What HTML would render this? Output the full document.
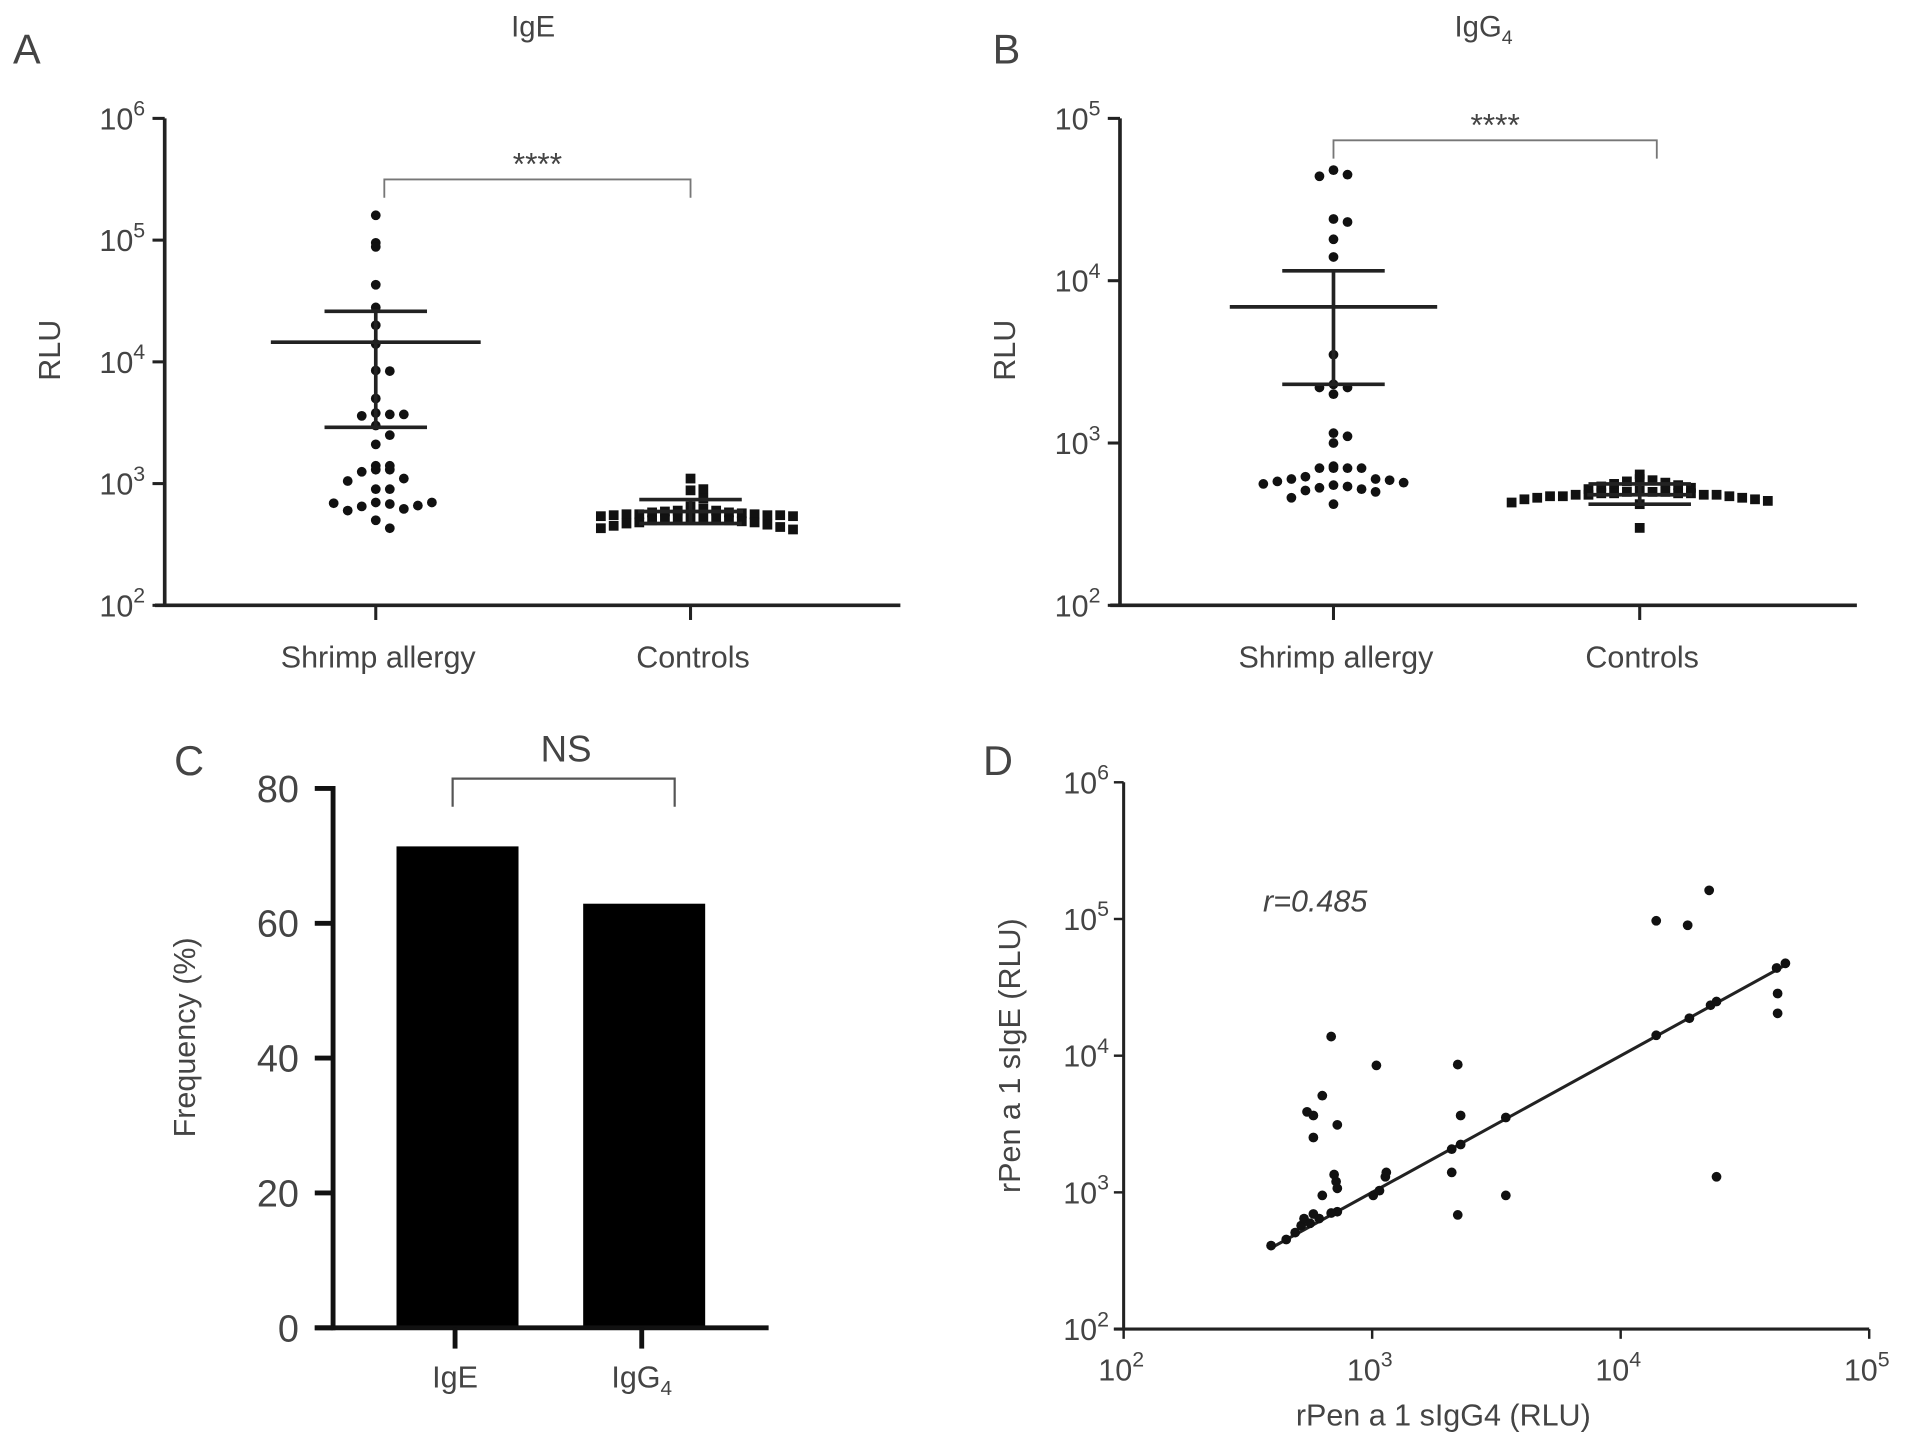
<!DOCTYPE html>
<html><head><meta charset="utf-8">
<style>
html,body{margin:0;padding:0;background:#fff;}
svg{display:block;}
text{font-family:"Liberation Sans",sans-serif;fill:#444;}
</style></head>
<body>
<svg id="fig" width="1913" height="1445" viewBox="0 0 1568 1184" preserveAspectRatio="none" xmlns="http://www.w3.org/2000/svg"></svg>
<script>
// ---------- Panel A data (IgE) ----------
const aShrimp = [160000, 95000, 88000, 43000, 28000, 20000, 14000, 8500, 8400, 5000, 3800, 3700, 3600, 3700, 3000, 2500, 2100, 1400, 1300, 1300, 1250, 1400, 1100, 1050, 900, 900, 700, 680, 650, 620, 600, 660, 690, 700, 500, 430];
const aControls = [1100, 900, 880, 750, 650, 620, 600, 600, 590, 580, 580, 570, 560, 560, 560, 550, 550, 550, 540, 540, 530, 530, 520, 520, 510, 500, 500, 490, 480, 480, 470, 460, 450, 440, 430, 420];
const aShrimpStats = [14500, 2900, 26000]; // mean, lower, upper
const aControlStats = [590, 470, 740];
// ---------- Panel B data (IgG4) ----------
const bShrimp = [48000, 45000, 44000, 24000, 23000, 18000, 14000, 3500, 2300, 2200, 2200, 2000, 1150, 1100, 1000, 720, 700, 700, 700, 700, 620, 600, 600, 590, 580, 570, 560, 550, 540, 530, 520, 510, 500, 460, 420];
const bControls = [640, 600, 590, 580, 570, 560, 550, 540, 530, 520, 510, 500, 500, 500, 490, 490, 490, 490, 480, 480, 480, 480, 470, 470, 470, 460, 460, 450, 450, 440, 430, 420, 300];
const bShrimpStats = [6900, 2300, 11500];
const bControlStats = [480, 420, 560];
const categoriesAB = ["Shrimp allergy", "Controls"];
// ---------- Panel C data ----------
const cCategories = ["IgE", "IgG4"];
const cValues = [71.4, 62.9];
const cTicks = [0, 20, 40, 60, 80];
// ---------- Panel D data ----------
const dX = [1010,392,451,490,518,532,563,612,580,724,684,630,703,716,724,547,580,580,630,684,724,1040,1070,1130,1140,2090,2210,2270,2210,2090,2270,3450,3450,13900,18600,22700,13900,18900,23000,24300,42800,42800,42400,46000,24300];
const dY = [950,408,452,508,571,643,594,643,695,722,706,950,1350,1200,1070,3880,3650,2520,5100,13800,3120,8490,1030,1300,1400,1400,8610,3650,684,2070,2240,950,3530,97000,90000,162000,14100,18800,23400,1300,28500,20400,43800,47400,24900];
const dFit = [1.0, 0.0]; // slope, intercept in log space
const dFitRange = [400, 46000];
const dR = "r=0.485";

const NS = "http://www.w3.org/2000/svg";
const svg = document.getElementById('fig');
function el(tag, attrs, parent) {
  const e = document.createElementNS(NS, tag);
  for (const k in attrs) e.setAttribute(k, attrs[k]);
  (parent || svg).appendChild(e);
  return e;
}
function txt(x, y, s, size, anchor, parent) {
  const t = el('text', {x: x, y: y, 'font-size': size, 'text-anchor': anchor || 'middle'}, parent);
  t.textContent = s;
  return t;
}
function pow10Label(x, y, exp, size, anchor) {
  const t = el('text', {x: x, y: y, 'font-size': size, 'text-anchor': anchor || 'end'});
  t.appendChild(document.createTextNode('10'));
  const s = el('tspan', {dy: -size * 0.45, 'font-size': size * 0.7}, t);
  s.textContent = exp;
  return t;
}
const L = Math.log10;

function dotPanel(cfg) {
  const g = el('g', {});
  
  
  const y = v => cfg.y0 - (L(v) - cfg.minExp) * cfg.dec;
  const ya = el('line', {x1: cfg.ax, y1: y(Math.pow(10, cfg.maxExp)), x2: cfg.ax, y2: cfg.y0 + 1, stroke: '#222', 'stroke-width': 3}, g);
  
  
  const xa = el('line', {x1: cfg.ax - 8, y1: cfg.y0, x2: cfg.xEnd, y2: cfg.y0, stroke: '#222', 'stroke-width': 3}, g);
  
  
  for (let e = cfg.minExp; e <= cfg.maxExp; e++) {
    const yy = y(Math.pow(10, e));
    el('line', {x1: cfg.ax - 10, y1: yy, x2: cfg.ax, y2: yy, stroke: '#222', 'stroke-width': 2.5}, g);
    const lab = pow10Label(cfg.ax - 16, yy + 9, e, 25, 'end');
    
    
  }
  cfg.cx.forEach((cx, i) => {
    el('line', {x1: cx, y1: cfg.y0, x2: cx, y2: cfg.y0 + 12, stroke: '#222', 'stroke-width': 2.5}, g);
    const t = txt(cx + 2, cfg.y0 + 51, categoriesAB[i], 25, 'middle', g);
    
    
  });
  const yl = txt(0, 0, 'RLU', 25, 'middle', g);
  yl.setAttribute('transform', `translate(${cfg.ax - 86},${cfg.ylY}) rotate(-90)`);
  
  
  const br = el('path', {d: `M${cfg.br[0]},${cfg.br[2] + 15} V${cfg.br[2]} H${cfg.br[1]} V${cfg.br[2] + 15}`, fill: 'none', stroke: '#777', 'stroke-width': 1.5}, g);
  
  
  const st = txt((cfg.br[0] + cfg.br[1]) / 2, cfg.br[2] - 4, '****', 26, 'middle', g);
  
  
  [cfg.d1, cfg.d2].forEach((data, gi) => {
    const bins = {};
    const bs = gi === 0 ? 13 : 11;
    const sp = gi === 0 ? 11.5 : 10.5;
    data.forEach(v => {
      const yy = y(v);
      const b = Math.round(yy / bs);
      const n = bins[b] = (bins[b] || 0) + 1;
      const k = n - 1;
      const off = (k === 0 ? 0 : (k % 2 ? 1 : -1) * Math.ceil(k / 2) * sp);
      const cx = cfg.cx[gi] + off;
      let m;
      if (gi === 0) m = el('circle', {cx: cx, cy: yy, r: 4, fill: '#111'}, g);
      else m = el('rect', {x: cx - 4, y: yy - 4, width: 8, height: 8, fill: '#111'}, g);
      
      
    });
  });
  [cfg.s1, cfg.s2].forEach((s, gi) => {
    const cx = cfg.cx[gi];
    const w = cfg.meanW[gi], ew = cfg.errW[gi];
    const mean = el('line', {x1: cx - w, y1: y(s[0]), x2: cx + w, y2: y(s[0]), stroke: '#222', 'stroke-width': 3}, g);
    
    
    el('line', {x1: cx, y1: y(s[1]), x2: cx, y2: y(s[2]), stroke: '#222', 'stroke-width': 3}, g);
    el('line', {x1: cx - ew, y1: y(s[1]), x2: cx + ew, y2: y(s[1]), stroke: '#222', 'stroke-width': 3}, g);
    el('line', {x1: cx - ew, y1: y(s[2]), x2: cx + ew, y2: y(s[2]), stroke: '#222', 'stroke-width': 3}, g);
  });
}

dotPanel({name: 'panel-a', ax: 135, y0: 496, minExp: 2, maxExp: 6, dec: 99.75, xEnd: 738, cx: [308, 566],
  d1: aShrimp, d2: aControls, s1: aShrimpStats, s2: aControlStats, meanW: [86, 43], errW: [42, 42],
  br: [315, 566, 147], ylY: 287});
dotPanel({name: 'panel-b', ax: 918, y0: 496, minExp: 2, maxExp: 5, dec: 133, xEnd: 1522, cx: [1093, 1344],
  d1: bShrimp, d2: bControls, s1: bShrimpStats, s2: bControlStats, meanW: [85, 43], errW: [42, 42],
  br: [1093, 1358, 115], ylY: 287});

[[437, 30, 'IgE', 'panel-a-title'], [22, 52, 'A', 'panel-a-letter'], [825, 52, 'B', 'panel-b-letter'], [155, 635, 'C', 'panel-c-letter'], [818, 635, 'D', 'panel-d-letter']].forEach(a => {
  const t = txt(a[0], a[1], a[2], a[2].length === 1 ? 34 : 24, 'middle');
  
  
});
const bt = el('text', {x: 1216, y: 30, 'font-size': 24, 'text-anchor': 'middle'});
bt.appendChild(document.createTextNode('IgG'));
const bsub = el('tspan', {dy: 6, 'font-size': 16}, bt); bsub.textContent = '4';



// ---------- Panel C ----------
(function () {
  const g = el('g', {});
  
  
  const y0 = 1088, ax = 273, scale = 442 / 80;
  const y = v => y0 - v * scale;
  const cx = [375, 528], bw = 100;
  cValues.forEach((v, i) => {
    const r = el('rect', {x: cx[i] - bw / 2, y: y(v), width: bw, height: y0 - y(v), fill: '#000'}, g);
    
    
  });
  const ya = el('line', {x1: ax, y1: y(80) - 2, x2: ax, y2: y0 + 2, stroke: '#111', 'stroke-width': 4}, g);
  
  
  const xa = el('line', {x1: ax - 15, y1: y0, x2: 630, y2: y0, stroke: '#111', 'stroke-width': 4}, g);
  
  
  cTicks.forEach(t => {
    el('line', {x1: ax - 15, y1: y(t), x2: ax, y2: y(t), stroke: '#111', 'stroke-width': 4}, g);
    const lab = txt(ax - 28, y(t) + 11, String(t), 31, 'end', g);
    
    
  });
  cCategories.forEach((c, i) => {
    el('line', {x1: cx[i] - 2, y1: y0, x2: cx[i] - 2, y2: y0 + 17, stroke: '#111', 'stroke-width': 4}, g);
    const t = el('text', {x: cx[i] - 2, y: y0 + 49, 'font-size': 25, 'text-anchor': 'middle'}, g);
    if (c === 'IgG4') {
      t.appendChild(document.createTextNode('IgG'));
      const s = el('tspan', {dy: 6, 'font-size': 17}, t); s.textContent = '4';
    } else t.textContent = c;
    
    
  });
  const yl = txt(0, 0, 'Frequency (%)', 25, 'middle', g);
  yl.setAttribute('transform', 'translate(160,850) rotate(-90)');
  
  
  const br = el('path', {d: 'M371,661 V638 H553 V661', fill: 'none', stroke: '#555', 'stroke-width': 1.8}, g);
  
  
  const ns = txt(464, 624, 'NS', 30, 'middle', g);
  
  
})();

// ---------- Panel D ----------
(function () {
  const g = el('g', {});
  
  
  const ax = 921, y0 = 1089;
  const x = v => ax + (L(v) - 2) * 203.7;
  const y = v => y0 - (L(v) - 2) * 112;
  const ya = el('line', {x1: ax, y1: y(1e6), x2: ax, y2: y0, stroke: '#222', 'stroke-width': 2.5}, g);
  
  
  const xa = el('line', {x1: ax - 8, y1: y0, x2: x(1e5), y2: y0, stroke: '#222', 'stroke-width': 2.5}, g);
  
  
  for (let e = 2; e <= 6; e++) {
    const yy = y(Math.pow(10, e));
    el('line', {x1: ax - 8, y1: yy, x2: ax, y2: yy, stroke: '#222', 'stroke-width': 2}, g);
    const lab = pow10Label(ax - 12, yy + 9, e, 25, 'end');
    
    
  }
  for (let e = 2; e <= 5; e++) {
    const xx = x(Math.pow(10, e));
    el('line', {x1: xx, y1: y0, x2: xx, y2: y0 + 8, stroke: '#222', 'stroke-width': 2}, g);
    const lab = pow10Label(xx - 2, y0 + 42, e, 25, 'middle');
    
    
  }
  const xl = txt(1183, 1168, 'rPen a 1 sIgG4 (RLU)', 25, 'middle', g);
  
  
  const yl = txt(0, 0, 'rPen a 1 sIgE (RLU)', 25, 'middle', g);
  yl.setAttribute('transform', 'translate(836,865) rotate(-90)');
  
  
  const fy = v => Math.pow(10, dFit[0] * L(v) + dFit[1]);
  const fl = el('line', {x1: x(dFitRange[0]), y1: y(fy(dFitRange[0])), x2: x(dFitRange[1]), y2: y(fy(dFitRange[1])), stroke: '#222', 'stroke-width': 2.5}, g);
  
  
  dX.forEach((vx, i) => {
    const c = el('circle', {cx: x(vx), cy: y(dY[i]), r: 4, fill: '#111'}, g);
    
    
  });
  const r = el('text', {x: 1078, y: 747, 'font-size': 25, 'text-anchor': 'middle', 'font-style': 'italic'}, g);
  r.textContent = dR;
  
  
})();
</script>
</body></html>
